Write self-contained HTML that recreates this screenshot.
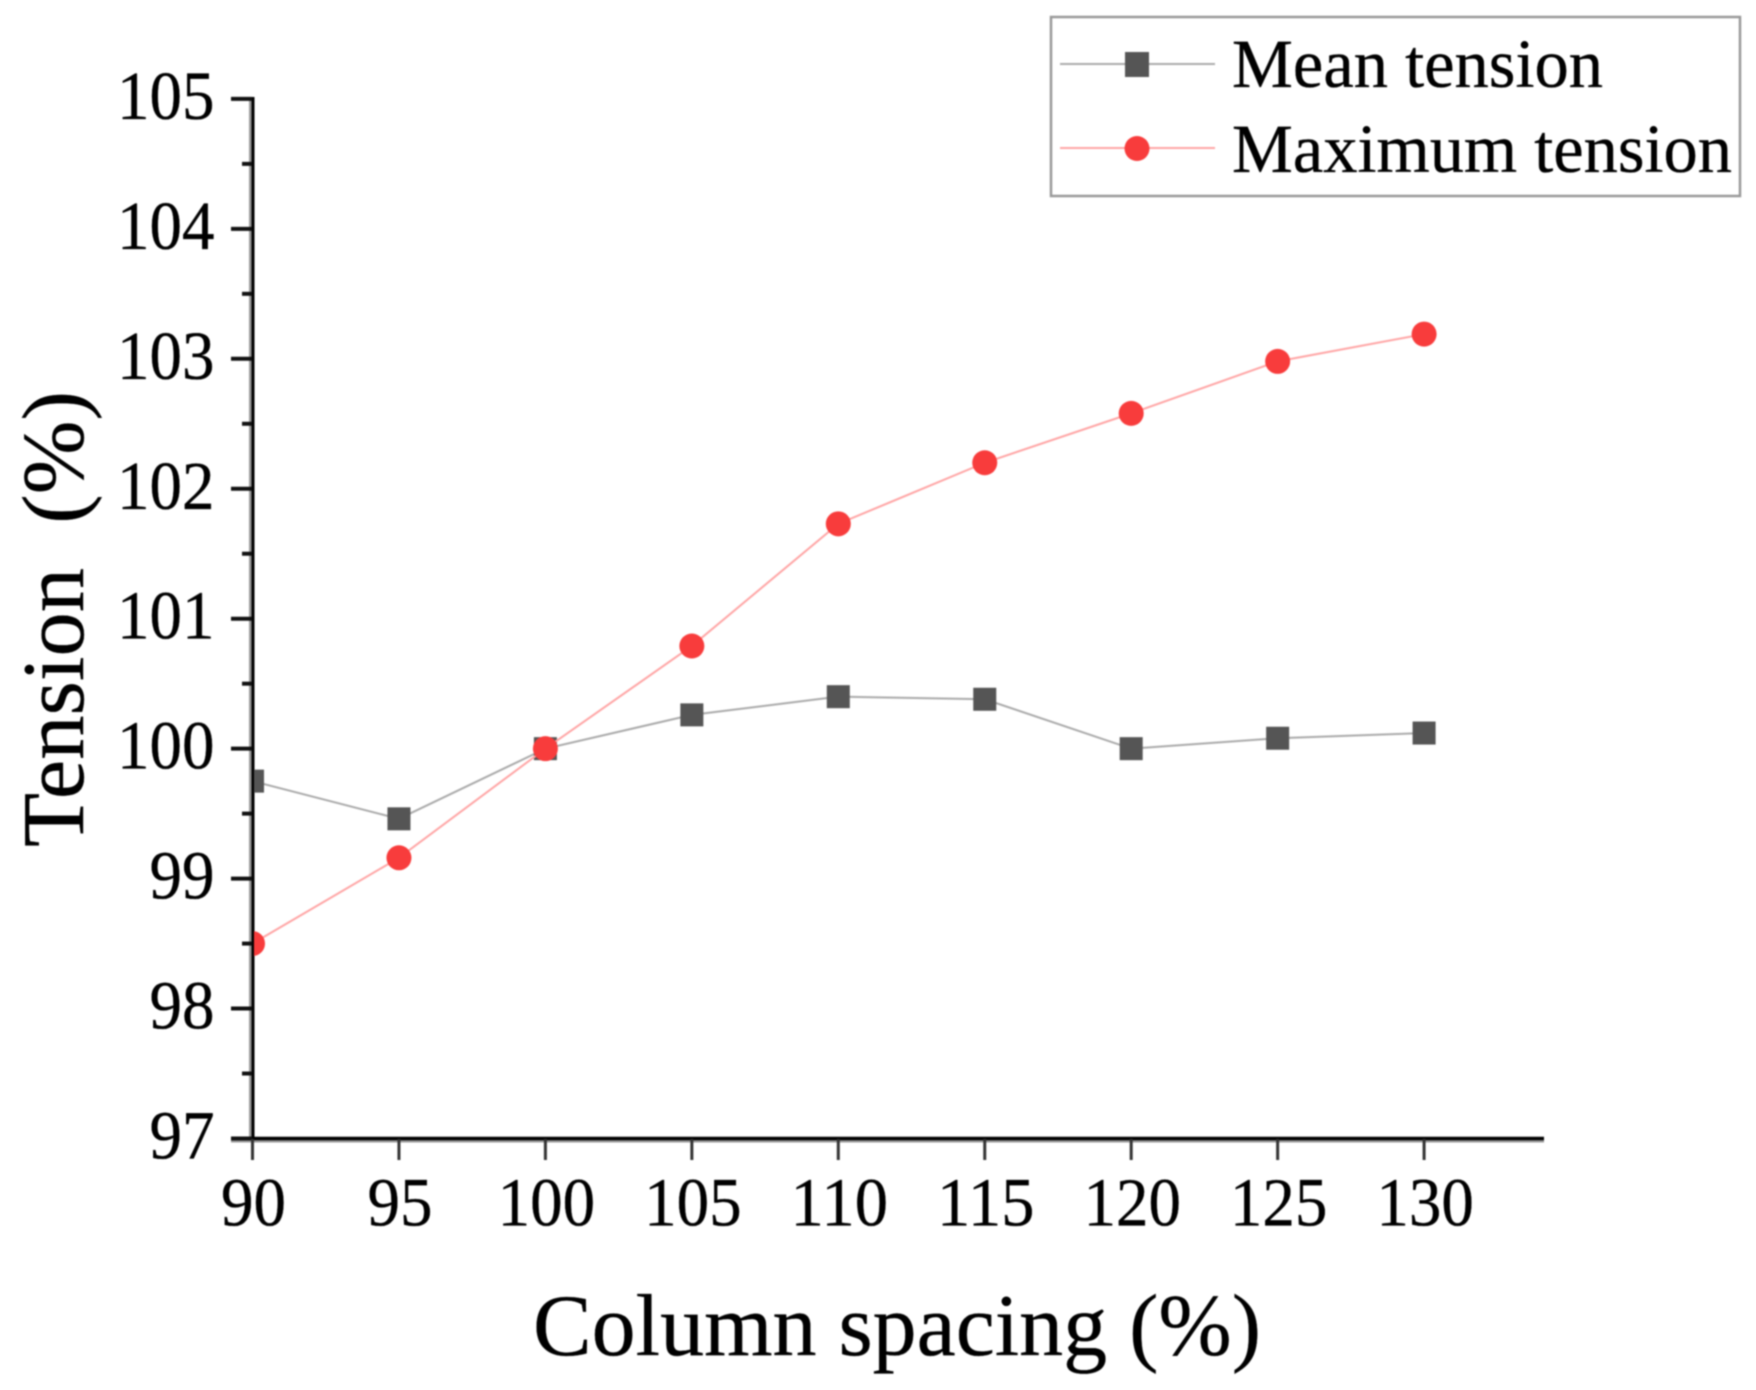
<!DOCTYPE html>
<html lang="en">
<head>
<meta charset="utf-8">
<title>Tension vs column spacing</title>
<style>
  html, body { margin: 0; padding: 0; background: #fff; }
  body { width: 1756px; height: 1390px; overflow: hidden; }
  svg { display: block; filter: blur(0.8px); }
  text { font-family: "Liberation Serif", serif; fill: #000; stroke: #000; stroke-width: 0.35px; }
</style>
</head>
<body>
<svg id="chart" xmlns="http://www.w3.org/2000/svg" width="1756" height="1390" viewBox="0 0 1756 1390">
  <defs>
    <clipPath id="plot-clip"><rect x="254" y="60" width="1300" height="1090"></rect></clipPath>
  </defs>
  <rect width="1756" height="1390" fill="#fff"></rect>
  <g id="axes"></g>
  <g id="series" clip-path="url(#plot-clip)"></g>

  <text x="533" y="1355" font-size="88" textLength="728" lengthAdjust="spacingAndGlyphs">Column spacing (%)</text>
  <text transform="translate(83 847) rotate(-90)" font-size="88" textLength="456" lengthAdjust="spacingAndGlyphs">Tension&#160;&#160;(%)</text>

  <g>
    <rect x="1051" y="17" width="689" height="179" fill="#fff" stroke="#999" stroke-width="2.5"></rect>
    <g>
      <line x1="1060" y1="64" x2="1215" y2="64" stroke="#aaa" stroke-width="2"></line>
      <rect x="1125" y="52" width="24" height="25" fill="#555"></rect>
      <text x="1232" y="87" font-size="69" textLength="371" lengthAdjust="spacingAndGlyphs">Mean tension</text>
    </g>
    <g>
      <line x1="1060" y1="148" x2="1215" y2="148" stroke="#ffa5a5" stroke-width="2"></line>
      <circle cx="1137" cy="148.5" r="12.5" fill="#f83c3c"></circle>
      <text x="1232" y="172" font-size="69" textLength="500" lengthAdjust="spacingAndGlyphs">Maximum tension</text>
    </g>
  </g>
</svg>

<script>
const categories = [90, 95, 100, 105, 110, 115, 120, 125, 130];
const meanTension = [99.75, 99.46, 100.0, 100.26, 100.4, 100.38, 100.0, 100.08, 100.12];
const maximumTension = [98.5, 99.16, 100.0, 100.79, 101.73, 102.2, 102.58, 102.98, 103.19];
const xTickLabels = ["90", "95", "100", "105", "110", "115", "120", "125", "130"];
const yTickLabels = ["97", "98", "99", "100", "101", "102", "103", "104", "105"];
const yMinorTicks = [97.5, 98.5, 99.5, 100.5, 101.5, 102.5, 103.5, 104.5];

const SVG_NS = 'http://www.w3.org/2000/svg';
const axesLayer = document.getElementById('axes');
const seriesLayer = document.getElementById('series');

function xScale(v) { return 252.5 + (v - 90) * 29.29; }
function yScale(v) { return 1138.5 - (v - 97) * 129.95; }

function make(tag, parent, attrs) {
  const el = document.createElementNS(SVG_NS, tag);
  for (const k in attrs) el.setAttribute(k, attrs[k]);
  parent.appendChild(el);
  return el;
}

// Axis lines: a black core with a grey edge
const yAxisHalo = make('line', axesLayer, { x1: 250.5, y1: 97, x2: 250.5, y2: 1141, stroke: '#999', 'stroke-width': 3 });


const yAxisLine = make('line', axesLayer, { x1: 253, y1: 97, x2: 253, y2: 1141, stroke: '#000', 'stroke-width': 3 });


const xAxisHalo = make('line', axesLayer, { x1: 231, y1: 1141, x2: 1544, y2: 1141, stroke: '#999', 'stroke-width': 3 });


const xAxisLine = make('line', axesLayer, { x1: 231, y1: 1138.5, x2: 1544, y2: 1138.5, stroke: '#000', 'stroke-width': 3.5 });



// Y major ticks and labels
yTickLabels.forEach(function (label) {
  const v = Number(label);
  const y = yScale(v);
  const tick = make('line', axesLayer, { x1: 231, y1: y, x2: 252, y2: y, stroke: '#111', 'stroke-width': 4 });
  
  
  const w = label.length * 32.5;
  const text = make('text', axesLayer, {
    x: 214.5 - w, y: y + 20, 'font-size': 69,
    textLength: w, lengthAdjust: 'spacingAndGlyphs'
  });
  text.textContent = label;
  
  
});

// Y minor ticks
yMinorTicks.forEach(function (v) {
  const y = yScale(v);
  const tick = make('line', axesLayer, { x1: 242, y1: y, x2: 252, y2: y, stroke: '#111', 'stroke-width': 4 });
  
  
});

// X ticks and labels
xTickLabels.forEach(function (label) {
  const v = Number(label);
  const x = xScale(v);
  const tick = make('line', axesLayer, { x1: x, y1: 1139, x2: x, y2: 1160, stroke: '#333', 'stroke-width': 3 });
  
  
  const w = label.length * 32.5;
  const text = make('text', axesLayer, {
    x: x - w / 2 + 1, y: 1225.5, 'font-size': 69,
    textLength: w, lengthAdjust: 'spacingAndGlyphs'
  });
  text.textContent = label;
  
  
});

// Mean tension series
const meanPoints = categories.map(function (c, i) { return xScale(c) + ',' + yScale(meanTension[i]); }).join(' ');
const meanLine = make('polyline', seriesLayer, { points: meanPoints, fill: 'none', stroke: '#aaa', 'stroke-width': 2 });


categories.forEach(function (c, i) {
  const m = make('rect', seriesLayer, { x: xScale(c) - 11.5, y: yScale(meanTension[i]) - 11.5, width: 23, height: 23, fill: '#555' });
  
  
});

// Maximum tension series
const maxPoints = categories.map(function (c, i) { return xScale(c) + ',' + yScale(maximumTension[i]); }).join(' ');
const maxLine = make('polyline', seriesLayer, { points: maxPoints, fill: 'none', stroke: '#ffa5a5', 'stroke-width': 2 });


categories.forEach(function (c, i) {
  const m = make('circle', seriesLayer, { cx: xScale(c), cy: yScale(maximumTension[i]), r: 12.5, fill: '#f83c3c' });
  
  
});
</script>
</body>
</html>
